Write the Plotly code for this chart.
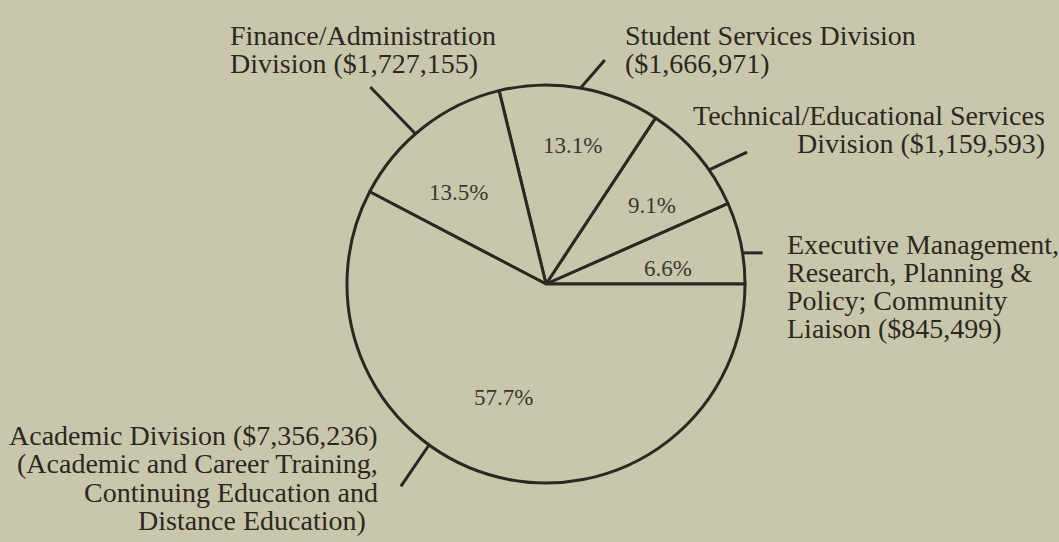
import math
import plotly.graph_objects as go

# ---- data ----
categories = [
    "Executive Management, Research, Planning & Policy; Community Liaison",
    "Technical/Educational Services Division",
    "Student Services Division",
    "Finance/Administration Division",
    "Academic Division (Academic and Career Training, Continuing Education and Distance Education)",
]
values = [845499, 1159593, 1666971, 1727155, 7356236]

# label line templates ({amt} filled from values)
label_lines = [
    ["Executive Management,", "Research, Planning &", "Policy; Community", "Liaison ({amt})"],
    ["Technical/Educational Services", "Division ({amt})"],
    ["Student Services Division", "({amt})"],
    ["Finance/Administration", "Division ({amt})"],
    ["Academic Division ({amt})", "(Academic and Career Training,", "Continuing Education and", "Distance Education)"],
]

# ---- layout settings (pixels) ----
W, H = 1059, 542
CX, CY, R = 546, 284, 199
BG = "#c9c7ab"
INK = "#2b2722"
FONT = "Liberation Serif"
FS = 28
PFS = 23

# label line placement: (x, baseline, anchor) per line
label_pos = [
    [(785, 254, "left"), (785, 282, "left"), (785, 310, "left"), (785, 338, "left")],
    [(1047, 125, "right"), (1047, 153, "right")],
    [(623, 45, "left"), (623, 73, "left")],
    [(228, 45, "left"), (228, 73, "left")],
    [(380, 445, "right"), (380, 473, "right"), (380, 502, "right"), (368, 530, "right")],
]
pct_pos = [(668, 268), (652, 205), (572, 145), (458, 192), (503, 397)]
# leader lines: (angle on circle, direction, length)
leaders = [(9, 0, 20), (35, 25, 42), (80, 49, 37), (131, 134, 65), (234, 235.7, 50)]


def px(x):
    return x / W


def py(y):
    return 1 - y / H


total = sum(values)
# first slice starts at 3 o'clock and runs counterclockwise
rot = 90 - values[0] / total * 360

fig = go.Figure(go.Pie(
    labels=categories,
    values=values,
    sort=False,
    direction="counterclockwise",
    rotation=rot,
    textinfo="none",
    hoverinfo="label+value+percent",
    marker=dict(colors=[BG] * len(values), line=dict(color=INK, width=3)),
    domain=dict(x=[px(CX - R), px(CX + R)], y=[py(CY + R), py(CY - R)]),
    showlegend=False,
))

annotations = []
for v, lines, poss in zip(values, label_lines, label_pos):
    amt = "${:,}".format(v)
    for text, (x, base, anc) in zip(lines, poss):
        annotations.append(dict(
            x=px(x), y=py(base - 0.33 * FS), xref="paper", yref="paper",
            xanchor=anc, yanchor="middle", showarrow=False,
            text=text.replace("{amt}", amt),
            font=dict(family=FONT, size=FS, color=INK),
        ))

for v, (x, y) in zip(values, pct_pos):
    annotations.append(dict(
        x=px(x), y=py(y), xref="paper", yref="paper",
        xanchor="center", yanchor="middle", showarrow=False,
        text="{:.1f}%".format(v / total * 100),
        font=dict(family=FONT, size=PFS, color="#3a3731"),
    ))

shapes = []
for a, d, L in leaders:
    x0 = CX + R * math.cos(math.radians(a))
    y0 = CY - R * math.sin(math.radians(a))
    x1 = x0 + L * math.cos(math.radians(d))
    y1 = y0 - L * math.sin(math.radians(d))
    shapes.append(dict(type="line", xref="paper", yref="paper",
                       x0=px(x0), y0=py(y0), x1=px(x1), y1=py(y1),
                       line=dict(color=INK, width=3)))

fig.update_layout(
    width=W, height=H,
    margin=dict(l=0, r=0, t=0, b=0),
    paper_bgcolor=BG, plot_bgcolor=BG,
    annotations=annotations,
    shapes=shapes,
)

fig.write_html(
    "out.html",
    config={"displayModeBar": False},
    post_script="document.body.style.margin='0';document.body.style.background='%s';" % BG,
)
